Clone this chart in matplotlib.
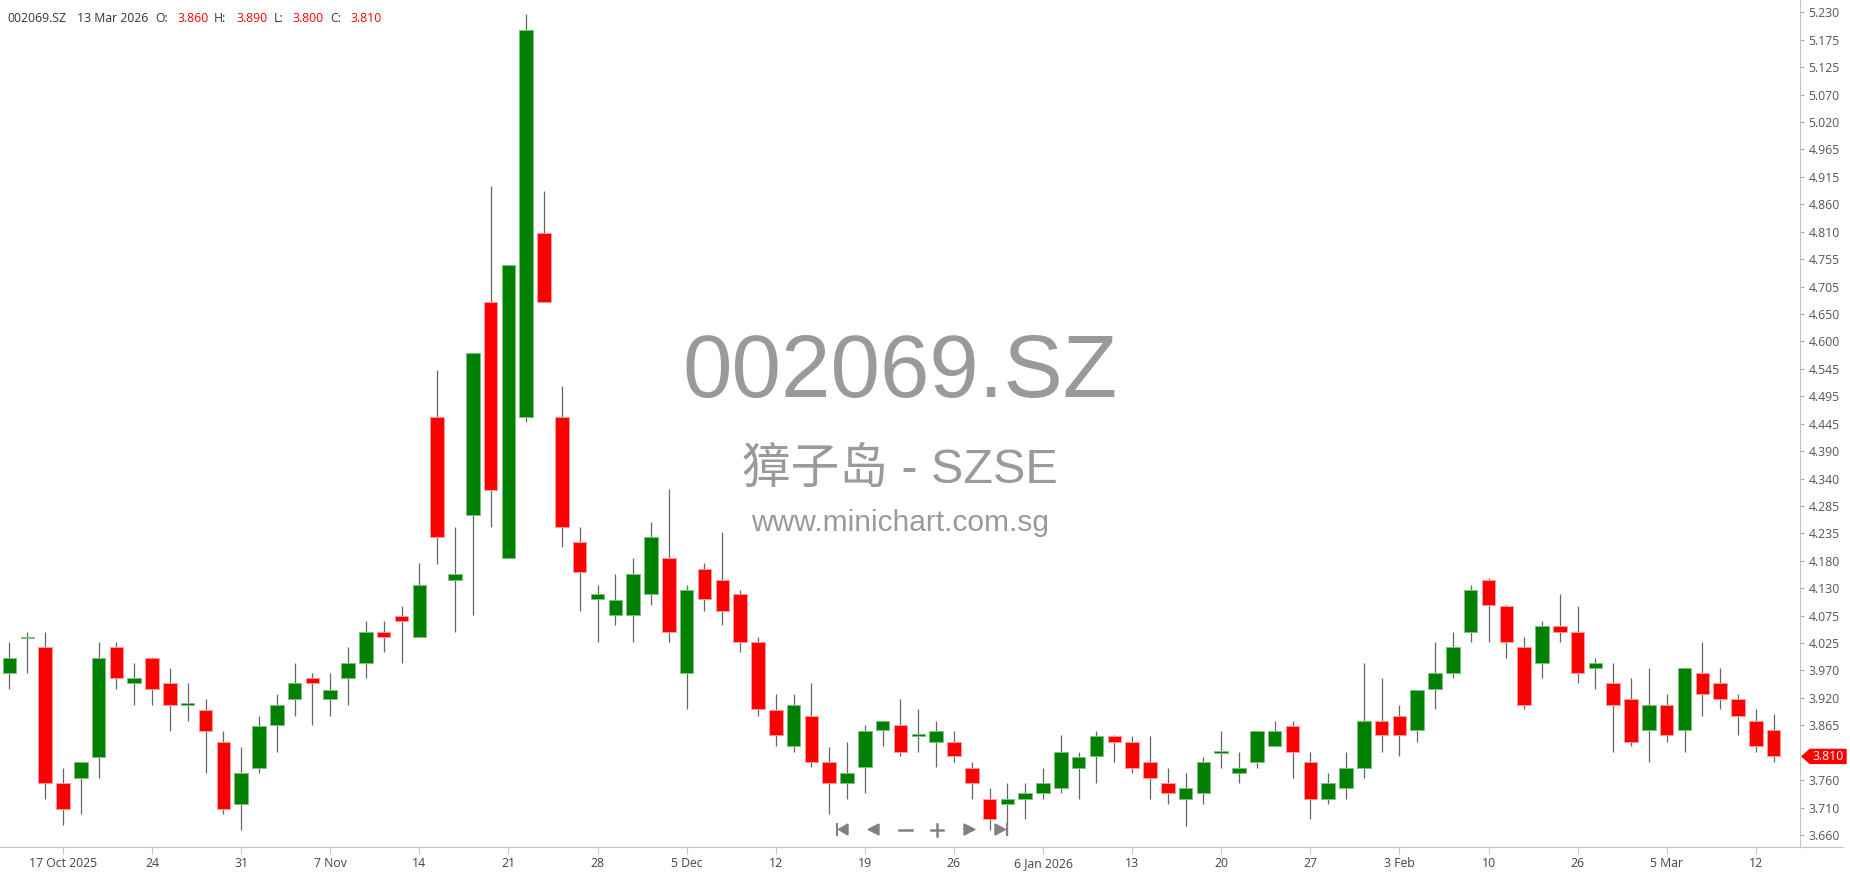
import numpy as np
import matplotlib
matplotlib.use("Agg")
import matplotlib.pyplot as plt
from matplotlib.patches import Polygon

plt.rcParams['font.family'] = ['Open Sans', 'DejaVu Sans']

symbol = "002069.SZ"
last_date = "13 Mar 2026"
name_line = "獐子岛 - SZSE"
site = "www.minichart.com.sg"

# daily OHLC, 14 Oct 2025 .. 13 Mar 2026
opens = [3.969, 4.035, 4.019, 3.759, 3.768, 3.809, 4.019, 3.950, 3.997, 3.950,
         3.908, 3.899, 3.838, 3.719, 3.787, 3.869, 3.919, 3.959, 3.919, 3.960,
         3.988, 4.047, 4.078, 4.038, 4.457, 4.147, 4.270, 4.677, 4.189, 4.458,
         4.808, 4.457, 4.219, 4.110, 4.079, 4.079, 4.120, 4.188, 3.969, 4.168,
         4.147, 4.119, 4.028, 3.899, 3.829, 3.887, 3.799, 3.760, 3.789, 3.860,
         3.869, 3.849, 3.838, 3.837, 3.787, 3.728, 3.719, 3.728, 3.740, 3.749,
         3.788, 3.810, 3.849, 3.837, 3.799, 3.759, 3.728, 3.740, 3.817, 3.778,
         3.799, 3.829, 3.868, 3.799, 3.728, 3.749, 3.787, 3.878, 3.887, 3.860,
         3.938, 3.970, 4.047, 4.147, 4.097, 4.018, 3.988, 4.059, 4.047, 3.978,
         3.950, 3.919, 3.860, 3.909, 3.860, 3.969, 3.950, 3.919, 3.878, 3.860]
highs = [4.028, 4.047, 4.047, 3.787, 3.799, 4.028, 4.028, 3.988, 3.999, 3.978,
         3.950, 3.919, 3.859, 3.828, 3.888, 3.929, 3.988, 3.969, 3.969, 4.019,
         4.069, 4.069, 4.097, 4.179, 4.548, 4.248, 4.579, 4.898, 4.748, 5.227,
         4.889, 4.516, 4.247, 4.138, 4.159, 4.188, 4.257, 4.320, 4.137, 4.179,
         4.238, 4.128, 4.037, 3.929, 3.929, 3.950, 3.827, 3.837, 3.869, 3.878,
         3.919, 3.900, 3.878, 3.859, 3.799, 3.749, 3.759, 3.759, 3.787, 3.850,
         3.818, 3.859, 3.851, 3.849, 3.849, 3.787, 3.778, 3.808, 3.859, 3.818,
         3.859, 3.878, 3.878, 3.818, 3.778, 3.818, 3.988, 3.959, 3.908, 3.937,
         4.028, 4.047, 4.137, 4.150, 4.099, 4.037, 4.068, 4.119, 4.097, 3.997,
         3.988, 3.959, 3.978, 3.929, 3.978, 4.028, 3.978, 3.929, 3.900, 3.890]
lows = [3.938, 3.969, 3.728, 3.679, 3.700, 3.768, 3.938, 3.909, 3.909, 3.859,
        3.878, 3.778, 3.700, 3.669, 3.778, 3.819, 3.888, 3.869, 3.888, 3.909,
        3.960, 4.009, 3.988, 4.038, 4.178, 4.047, 4.079, 4.247, 4.189, 4.449,
        4.677, 4.210, 4.088, 4.028, 4.060, 4.029, 4.098, 4.029, 3.901, 4.088,
        4.060, 4.010, 3.888, 3.829, 3.819, 3.789, 3.700, 3.728, 3.741, 3.829,
        3.810, 3.819, 3.789, 3.800, 3.728, 3.670, 3.660, 3.691, 3.728, 3.740,
        3.728, 3.759, 3.800, 3.778, 3.728, 3.719, 3.678, 3.719, 3.787, 3.759,
        3.787, 3.829, 3.768, 3.691, 3.719, 3.728, 3.768, 3.818, 3.810, 3.838,
        3.900, 3.959, 4.028, 4.028, 3.997, 3.900, 3.959, 4.028, 3.950, 3.938,
        3.819, 3.829, 3.800, 3.838, 3.819, 3.888, 3.900, 3.850, 3.819, 3.800]
closes = [3.997, 4.037, 3.759, 3.709, 3.799, 3.997, 3.960, 3.959, 3.938, 3.909,
          3.909, 3.859, 3.709, 3.778, 3.868, 3.909, 3.950, 3.950, 3.937, 3.988,
          4.047, 4.038, 4.069, 4.138, 4.229, 4.159, 4.579, 4.319, 4.748, 5.197,
          4.677, 4.248, 4.161, 4.119, 4.109, 4.159, 4.228, 4.048, 4.128, 4.110,
          4.088, 4.029, 3.900, 3.850, 3.908, 3.800, 3.760, 3.778, 3.859, 3.878,
          3.819, 3.850, 3.859, 3.810, 3.760, 3.691, 3.728, 3.740, 3.759, 3.818,
          3.808, 3.849, 3.838, 3.788, 3.769, 3.740, 3.749, 3.799, 3.818, 3.787,
          3.859, 3.859, 3.818, 3.728, 3.759, 3.787, 3.878, 3.850, 3.850, 3.937,
          3.969, 4.018, 4.128, 4.098, 4.028, 3.909, 4.059, 4.047, 3.970, 3.988,
          3.909, 3.838, 3.909, 3.850, 3.978, 3.929, 3.919, 3.888, 3.829, 3.810]

xtick_pos = [3, 8, 13, 18, 23, 28, 33, 38, 43, 48, 53, 58, 63, 68, 73, 78, 83, 88, 93, 98]
xtick_labels = ["17 Oct 2025", "24", "31", "7 Nov", "14", "21", "28", "5 Dec", "12", "19",
                "26", "6 Jan 2026", "13", "20", "27", "3 Feb", "10", "26", "5 Mar", "12"]
# price axis labels; the 4th step sits under the last-price tag and is not shown
ytick_labels = ["3.660", "3.710", "3.760", "3.865", "3.920", "3.970", "4.025",
                "4.075", "4.130", "4.180", "4.235", "4.285", "4.340", "4.390", "4.445",
                "4.495", "4.545", "4.600", "4.650", "4.705", "4.755", "4.810", "4.860",
                "4.915", "4.965", "5.020", "5.070", "5.125", "5.175", "5.230"]

W, H = 1850, 874
PLOT_R, PLOT_B = 1800, 847
ymin, ymax = 3.6371, 5.2535

fig = plt.figure(figsize=(W / 100, H / 100), dpi=100)
fig.patch.set_facecolor("white")
ax = fig.add_axes([0, (H - PLOT_B) / H, PLOT_R / W, PLOT_B / H])

o = np.array(opens)
h = np.array(highs)
l = np.array(lows)
c = np.array(closes)
x = np.arange(len(o))
up = c >= o

# wicks then bodies
ax.vlines(x, l, h, color="#666666", linewidth=0.9, zorder=2)
body_lo = np.minimum(o, c)
body_h = np.maximum(np.abs(c - o), 0.003)
ax.bar(x[up], body_h[up], 0.76, bottom=body_lo[up], color="#008000",
       edgecolor="#7fc07f", linewidth=0.7, zorder=3)
ax.bar(x[~up], body_h[~up], 0.76, bottom=body_lo[~up], color="#ff0000",
       edgecolor="#ff9a9a", linewidth=0.7, zorder=3)

ax.set_xlim(-0.533, 100.48)
ax.set_ylim(ymin, ymax)

# watermark behind candles
ax.text(0.5, 0.5313, symbol, transform=ax.transAxes, ha="center", va="baseline",
        fontsize=64, color="#9a9a9a", family=["Liberation Sans"], zorder=0)
ax.text(0.5, 0.4298, name_line, transform=ax.transAxes, ha="center", va="baseline",
        fontsize=35, color="#9a9a9a", family=["Liberation Sans", "Noto Sans CJK SC"], zorder=0)
ax.text(0.5, 0.3731, site, transform=ax.transAxes, ha="center", va="baseline",
        fontsize=21.5, color="#9a9a9a", family=["Liberation Sans"], zorder=0)

for s in ["left", "top", "bottom"]:
    ax.spines[s].set_visible(False)
ax.spines["right"].set_color("#c4c4c4")

ax.yaxis.tick_right()
ytick_pos = np.delete(np.linspace(3.660, 5.230, 31), 3)
ax.set_yticks(ytick_pos)
ax.set_yticklabels(ytick_labels)
ax.tick_params(axis="y", length=3, color="#aaaaaa", pad=3, labelsize=8.8, labelcolor="#555555")
ax.set_xticks(xtick_pos)
ax.set_xticklabels(xtick_labels)
ax.tick_params(axis="x", length=5, color="#c4c4c4", pad=2.5, labelsize=8.8, labelcolor="#444444")

# overlay in pixel coordinates for header, nav buttons and price tag
ov = fig.add_axes([0, 0, 1, 1])
ov.set_xlim(0, W)
ov.set_ylim(H, 0)
ov.axis("off")
ov.patch.set_alpha(0)

ov.plot([0, 1843], [PLOT_B, PLOT_B], color="#c4c4c4", linewidth=0.8)

vals = [opens[-1], highs[-1], lows[-1], closes[-1]]
ov.text(7, 18, symbol, fontsize=8.8, color="#333333", va="center")
ov.text(77, 18, last_date, fontsize=8.8, color="#333333", va="center")
for lab, v, xl, xv in zip(["O:", "H:", "L:", "C:"], vals, [155, 214, 274, 330], [177, 236, 292, 350]):
    ov.text(xl, 18, lab, fontsize=8.8, color="#333333", va="center")
    ov.text(xv, 18, f"{v:.3f}", fontsize=8.8, color="#ff0000", va="center")

# navigation buttons
g = "#808080"
yc = 829.5
ov.plot([837, 837], [824, 835], color=g, linewidth=1.5)
ov.add_patch(Polygon([(838.5, yc), (848, 824), (848, 835)], closed=True, color=g))
ov.add_patch(Polygon([(868, yc), (879, 824), (879, 835)], closed=True, color=g))
ov.plot([899, 912], [yc, yc], color=g, linewidth=1.8)
ov.plot([931, 943], [yc, yc], color=g, linewidth=1.8)
ov.plot([937, 937], [823.5, 835.5], color=g, linewidth=1.8)
ov.add_patch(Polygon([(964, 824), (964, 835), (975, yc)], closed=True, color=g))
ov.add_patch(Polygon([(995, 824), (995, 835), (1005.5, yc)], closed=True, color=g))
ov.plot([1007, 1007], [824, 835], color=g, linewidth=1.5)

# last price tag on the price axis
py = PLOT_B - (closes[-1] - ymin) / (ymax - ymin) * PLOT_B
ov.add_patch(Polygon([(1802, py), (1810, py - 7), (1846, py - 7), (1846, py + 7), (1810, py + 7)],
                     closed=True, color="#ff0000", zorder=5))
ov.text(1828, py, f"{closes[-1]:.3f}", fontsize=8.8, color="white", ha="center", va="center", zorder=6)

fig.savefig("out.png", dpi=100)
